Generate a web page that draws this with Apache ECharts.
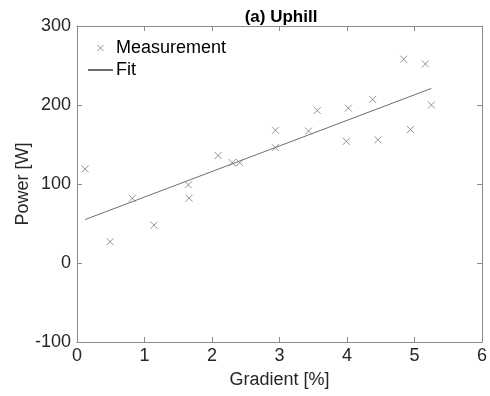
<!DOCTYPE html>
<html>
<head>
    <meta charset="utf-8">
    <title>Uphill</title>
    <script src="https://cdn.jsdelivr.net/npm/echarts@6/dist/echarts.min.js"></script>
</head>
<body style="margin:0">
    <div id="main" style="width:490px;height:396px;background:#fff"></div>
    <script type="text/javascript">
        // measured points (gradient %, power W)
        var gradient = [0.12, 0.49, 0.82, 1.14, 1.65, 1.66, 2.09, 2.30, 2.41, 2.94, 2.94,
                        3.43, 3.56, 3.99, 4.02, 4.38, 4.46, 4.84, 4.94, 5.16, 5.25];
        var power = [119, 27, 82, 48, 99, 82, 136, 127, 127, 146, 168,
                     167, 193, 154, 196, 207, 156, 258, 169, 252, 200];
        // fitted line endpoints
        var fitX = [0.12, 5.25];
        var fitY = [55, 221];
        var xTicks = [0, 1, 2, 3, 4, 5, 6];
        var yTicks = [-100, 0, 100, 200, 300];

        var measured = [];
        for (var i = 0; i < gradient.length; i++) {
            measured.push([gradient[i], power[i]]);
        }
        var fit = [];
        for (var j = 0; j < fitX.length; j++) {
            fit.push([fitX[j], fitY[j]]);
        }

        var font = 'Liberation Sans, Arial, sans-serif';
        var axisCol = '#8c8c8c';
        var txtCol = '#262626';
        var markCol = '#7a7a7a';

        var baseAxis = {
            axisLine: { show: true, onZero: false, lineStyle: { color: axisCol, width: 1 } },
            axisTick: { show: true, inside: true, length: 5, lineStyle: { color: axisCol } },
            splitLine: { show: false }
        };

        var myChart = echarts.init(document.getElementById('main'));
        myChart.setOption({
            animation: false,
            title: {
                text: '(a) Uphill',
                left: 276,
                textAlign: 'center',
                top: 4,
                textStyle: { fontFamily: font, fontSize: 17, fontWeight: 'bold', color: '#000' }
            },
            legend: {
                left: 82,
                top: 34,
                orient: 'vertical',
                itemGap: 4,
                itemWidth: 25,
                itemHeight: 6,
                textStyle: { fontFamily: font, fontSize: 18, color: '#000', padding: [0, 0, 0, -2] },
                data: [
                    { name: 'Measurement', itemStyle: { color: 'none', borderColor: markCol, borderWidth: 1 } },
                    { name: 'Fit', itemStyle: { color: 'rgba(0,0,0,0)', borderWidth: 0 } }
                ]
            },
            grid: { left: 77, right: 7, top: 26, bottom: 54 },
            xAxis: [
                Object.assign({}, baseAxis, {
                    type: 'value', min: 0, max: 6, interval: 1, position: 'bottom',
                    name: 'Gradient [%]', nameLocation: 'middle', nameGap: 29,
                    nameMoveOverlap: false,
                    nameTextStyle: { fontFamily: font, fontSize: 18, color: txtCol },
                    axisLabel: { fontFamily: font, fontSize: 18, color: txtCol, margin: 5,
                        customValues: xTicks }
                }),
                Object.assign({}, baseAxis, {
                    type: 'value', min: 0, max: 6, interval: 1, position: 'top',
                    axisLabel: { show: false }
                })
            ],
            yAxis: [
                Object.assign({}, baseAxis, {
                    type: 'value', min: -100, max: 300, interval: 100, position: 'left',
                    name: 'Power [W]', nameLocation: 'middle', nameGap: 45,
                    nameMoveOverlap: false,
                    nameTextStyle: { fontFamily: font, fontSize: 18, color: txtCol },
                    axisLabel: { fontFamily: font, fontSize: 18, color: txtCol, margin: 6,
                        customValues: yTicks }
                }),
                Object.assign({}, baseAxis, {
                    type: 'value', min: -100, max: 300, interval: 100, position: 'right',
                    axisLabel: { show: false }
                })
            ],
            series: [
                {
                    name: 'Measurement',
                    type: 'scatter',
                    data: measured,
                    symbol: 'path://M0,0L10,10M10,0L0,10',
                    symbolSize: 7,
                    symbolKeepAspect: true,
                    itemStyle: { color: 'none', borderColor: markCol, borderWidth: 1 }
                },
                {
                    name: 'Fit',
                    type: 'line',
                    data: fit,
                    symbol: 'none',
                    lineStyle: { color: '#6e6e6e', width: 1 },
                    itemStyle: { color: '#6e6e6e' }
                }
            ]
        });
    </script>
</body>
</html>
